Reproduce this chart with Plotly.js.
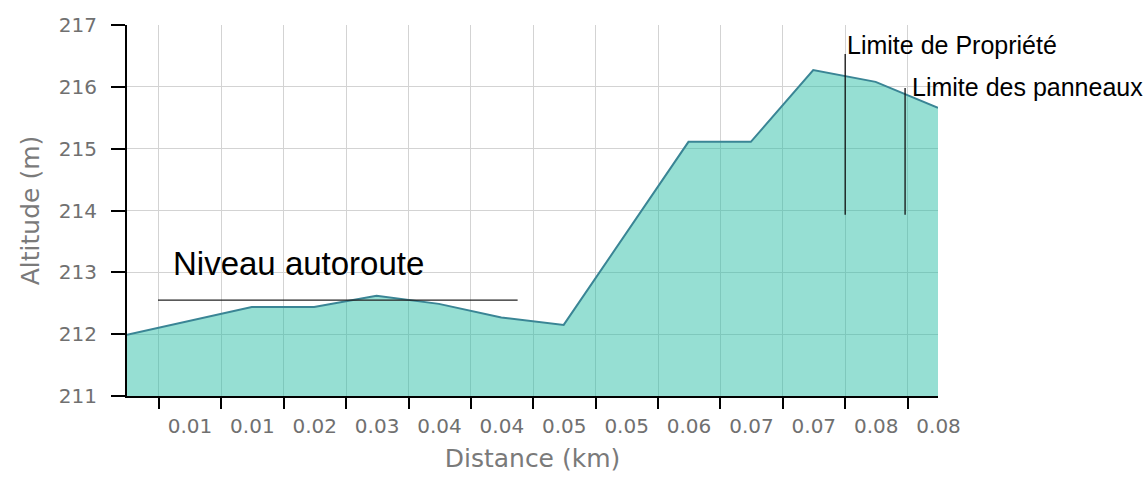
<!DOCTYPE html>
<html>
<head>
<meta charset="utf-8">
<script src="https://cdn.plot.ly/plotly-3.0.1.min.js"></script>
<style>
  html, body { margin: 0; padding: 0; background: #ffffff; }
  #chart { width: 1146px; height: 496px; }
</style>
</head>
<body>
<div id="chart"></div>
<script>
// ---- data ----
const distanceKm = [0, 0.0065, 0.013, 0.0195, 0.026, 0.0325, 0.039, 0.0455, 0.052, 0.0585, 0.065, 0.0715, 0.078, 0.0845];
const altitudeM  = [211.99, 212.21, 212.44, 212.44, 212.62, 212.49, 212.27, 212.15, 213.64, 215.11, 215.11, 216.27, 216.08, 215.66];

const xTickVals  = [0.00333, 0.00983, 0.01633, 0.02283, 0.02933, 0.03583, 0.04233, 0.04883, 0.05533, 0.06183, 0.06833, 0.07483, 0.08133];
const xTickText  = ['0.01', '0.01', '0.02', '0.03', '0.04', '0.04', '0.05', '0.05', '0.06', '0.07', '0.07', '0.08', '0.08'];

// reference marks
const niveauAltitude = 212.55;
const niveauFrom = 0.00323;
const niveauTo = 0.0407;
const limitePropriete = 0.07483;
const limiteProprieteTop = 216.53;
const limitePanneaux = 0.08107;
const limitePanneauxTop = 215.98;
const limitesBottom = 213.93;

const tickFont = { family: 'DejaVu Sans, Verdana, sans-serif', size: 20, color: '#707070' };
const titleFont = { family: 'DejaVu Sans, Verdana, sans-serif', size: 25, color: '#7a7a7a' };
const noteFont = { family: 'Liberation Sans, Arial, sans-serif', color: '#000000' };

const trace = {
  x: distanceKm,
  y: altitudeM,
  type: 'scatter',
  mode: 'lines',
  fill: 'tozeroy',
  fillcolor: 'rgba(40,190,165,0.49)',
  line: { color: '#3a8595', width: 2 },
  hoverinfo: 'skip',
  showlegend: false
};

const layout = {
  width: 1146,
  height: 496,
  margin: { l: 127, r: 208, t: 25, b: 100 },
  paper_bgcolor: '#ffffff',
  plot_bgcolor: '#ffffff',
  showlegend: false,
  xaxis: {
    range: [0, 0.0845],
    tickmode: 'array',
    tickvals: xTickVals,
    ticktext: xTickText,
    ticks: 'outside',
    ticklen: 11,
    tickwidth: 2,
    tickcolor: '#000000',
    ticklabelshift: 31,
    showline: true,
    linecolor: '#000000',
    linewidth: 2,
    showgrid: true,
    gridcolor: '#d3d3d3',
    gridwidth: 1,
    zeroline: false,
    tickfont: tickFont,
    title: { text: 'Distance (km)', font: titleFont, standoff: 12 },
    fixedrange: true
  },
  yaxis: {
    range: [211, 217],
    tick0: 211,
    dtick: 1,
    ticks: 'outside',
    ticklen: 14,
    tickwidth: 2,
    tickcolor: '#000000',
    ticklabelstandoff: 10,
    showline: true,
    linecolor: '#000000',
    linewidth: 2,
    showgrid: true,
    gridcolor: '#d3d3d3',
    gridwidth: 1,
    zeroline: false,
    tickfont: tickFont,
    title: { text: 'Altitude (m)', font: titleFont, standoff: 12 },
    fixedrange: true
  },
  shapes: [
    { type: 'line', xref: 'x', yref: 'y', x0: niveauFrom, x1: niveauTo, y0: niveauAltitude, y1: niveauAltitude,
      line: { color: '#222222', width: 1.3 } },
    { type: 'line', xref: 'x', yref: 'y', x0: limitePropriete, x1: limitePropriete, y0: limitesBottom, y1: limiteProprieteTop,
      line: { color: '#111111', width: 1.3 } },
    { type: 'line', xref: 'x', yref: 'y', x0: limitePanneaux, x1: limitePanneaux, y0: limitesBottom, y1: limitePanneauxTop,
      line: { color: '#111111', width: 1.3 } }
  ],
  annotations: [
    { text: 'Niveau autoroute', xref: 'paper', yref: 'paper', x: 0.0543, y: 0.358,
      xanchor: 'left', yanchor: 'middle', showarrow: false, font: Object.assign({ size: 33 }, noteFont) },
    { text: 'Limite de Propriété', xref: 'paper', yref: 'paper', x: 0.8853, y: 0.946,
      xanchor: 'left', yanchor: 'middle', showarrow: false, font: Object.assign({ size: 25 }, noteFont) },
    { text: 'Limite des panneaux', xref: 'paper', yref: 'paper', x: 0.9655, y: 0.834,
      xanchor: 'left', yanchor: 'middle', showarrow: false, font: Object.assign({ size: 25 }, noteFont) }
  ]
};

Plotly.newPlot('chart', [trace], layout, { displayModeBar: false, staticPlot: true });
</script>
</body>
</html>
